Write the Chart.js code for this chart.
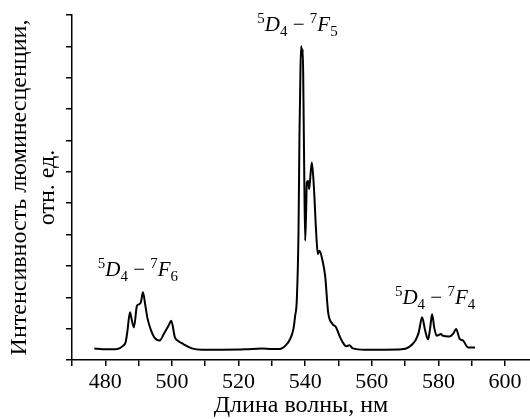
<!DOCTYPE html>
<html>
<head>
<meta charset="utf-8">
<script src="https://cdn.jsdelivr.net/npm/chart.js@4/dist/chart.umd.min.js"></script>
<style>
  body { margin: 0; background: #fff; }
  canvas { display: block; }
</style>
</head>
<body>
<canvas id="spectrum" width="530" height="419"></canvas>
<script>
// wavelength, nm
const wavelength = [476.7, 480, 483.6, 485.3, 486.1, 486.6, 487.4, 488.0, 488.6, 489.5, 490.2, 490.7, 491.3, 492.0, 492.7, 493.7, 494.7, 496.3, 497.8, 499.0, 499.8, 500.9, 502.0, 503.4, 506, 509, 515, 522, 527, 530, 532.4, 534, 535.5, 536.5, 537, 537.5, 538.0, 538.3, 538.6, 538.8, 539.1, 539.3, 539.5, 539.7, 540.0, 540.3, 540.5, 540.9, 541.2, 541.6, 542.0, 542.6, 543.3, 543.8, 544.3, 545.1, 546.0, 546.9, 548.2, 549.3, 550.3, 551.3, 552.3, 553.3, 554.3, 558, 564, 569, 571, 573.1, 574.1, 575.1, 576.0, 576.9, 577.5, 578.1, 578.8, 579.5, 580.8, 581.2, 583.3, 584.5, 585.3, 586.4, 587.4, 588.9, 591];
// luminescence intensity, arb. units
const intensity = [0.37, 0.34, 0.35, 0.45, 0.57, 0.89, 1.52, 1.25, 1.04, 1.73, 1.78, 1.85, 2.16, 1.75, 1.31, 0.95, 0.72, 0.62, 0.88, 1.1, 1.25, 0.72, 0.6, 0.51, 0.37, 0.33, 0.33, 0.34, 0.37, 0.35, 0.35, 0.45, 0.67, 1.0, 1.41, 1.94, 4.07, 7.26, 9.3, 10.0, 9.7, 9.9, 8.2, 6.2, 3.8, 4.8, 5.66, 5.71, 5.45, 5.9, 6.3, 5.55, 4.07, 3.38, 3.48, 3.22, 2.68, 1.52, 1.15, 1.04, 0.77, 0.56, 0.44, 0.47, 0.37, 0.33, 0.33, 0.34, 0.4, 0.62, 0.88, 1.36, 0.95, 0.65, 1.0, 1.46, 1.0, 0.77, 0.83, 0.78, 0.75, 0.85, 0.99, 0.67, 0.62, 0.4, 0.4];

const xTicks = [480, 500, 520, 540, 560, 580, 600];
const yTitle = ['Интенсивность люминесценции,', 'отн. ед.'];
const xTitle = 'Длина волны, нм';

// transition labels 5D4 - 7Fn, anchored at (nm, value)
const transitions = [
    { f: '5', nm: 537.7, v: 10.5 },
    { f: '6', nm: 489.8, v: 2.67 },
    { f: '4', nm: 579.0, v: 1.8 }
];

const serif = '"Liberation Serif", "DejaVu Serif", serif';

const points = wavelength.map((w, i) => ({ x: w, y: intensity[i] }));

// draws "5D4 - 7Fn" labels
const transitionLabels = {
    id: 'transitionLabels',
    afterDatasetsDraw(chart) {
        const ctx = chart.ctx;
        const xs = chart.scales.x, ys = chart.scales.y;
        const big = 21, small = 15;
        transitions.forEach(t => {
            const parts = [
                { s: '5', font: small + 'px ' + serif, dy: -8 },
                { s: 'D', font: 'italic ' + big + 'px ' + serif, dy: 0 },
                { s: '4', font: small + 'px ' + serif, dy: 5 },
                { s: ' \u2212 ', font: big + 'px ' + serif, dy: 0 },
                { s: '7', font: small + 'px ' + serif, dy: -8 },
                { s: 'F', font: 'italic ' + big + 'px ' + serif, dy: 0 },
                { s: t.f, font: small + 'px ' + serif, dy: 5 }
            ];
            ctx.save();
            ctx.fillStyle = '#000';
            ctx.textBaseline = 'alphabetic';
            let total = 0;
            parts.forEach(p => { ctx.font = p.font; p.w = ctx.measureText(p.s).width; total += p.w; });
            let x = xs.getPixelForValue(t.nm) - total / 2;
            const y = ys.getPixelForValue(t.v);
            parts.forEach(p => {
                ctx.font = p.font;
                ctx.fillText(p.s, x, y + p.dy);
                x += p.w;
            });
            ctx.restore();
        });
    }
};

new Chart(document.getElementById('spectrum').getContext('2d'), {
    type: 'line',
    data: {
        datasets: [{
            data: points,
            borderColor: '#000',
            borderWidth: 2,
            pointRadius: 0,
            cubicInterpolationMode: 'monotone',
            fill: false
        }]
    },
    options: {
        responsive: false,
        animation: false,
        layout: { padding: { top: 15, right: 0, left: 0, bottom: 0 } },
        plugins: { legend: { display: false }, tooltip: { enabled: false } },
        scales: {
            x: {
                type: 'linear',
                min: 470,
                max: 607.5,
                afterFit: s => { s.height = 59; },
                border: { display: true, color: '#000', width: 1.5 },
                grid: { drawOnChartArea: false, drawTicks: true, tickLength: 6, color: '#000', lineWidth: 1.5 },
                ticks: {
                    stepSize: 10,
                    includeBounds: false,
                    autoSkip: false,
                    maxRotation: 0,
                    padding: 3,
                    color: '#000',
                    font: { family: serif, size: 22 },
                    callback: v => xTicks.includes(v) ? String(v) : ''
                },
                title: {
                    display: true,
                    text: xTitle,
                    color: '#000',
                    font: { family: serif, size: 24, lineHeight: 1.0 },
                    padding: { top: 0, bottom: 1 }
                }
            },
            y: {
                min: 0,
                max: 11,
                afterFit: s => { s.width = 72; },
                border: { display: true, color: '#000', width: 1.5 },
                grid: { drawOnChartArea: false, drawTicks: true, tickLength: 6, color: '#000', lineWidth: 1.5 },
                ticks: { stepSize: 1, display: false },
                title: {
                    display: true,
                    text: yTitle,
                    color: '#000',
                    font: { family: serif, size: 24, lineHeight: 1.167 },
                    padding: { top: 6, bottom: 0 }
                }
            }
        }
    },
    plugins: [transitionLabels]
});
</script>
</body>
</html>
